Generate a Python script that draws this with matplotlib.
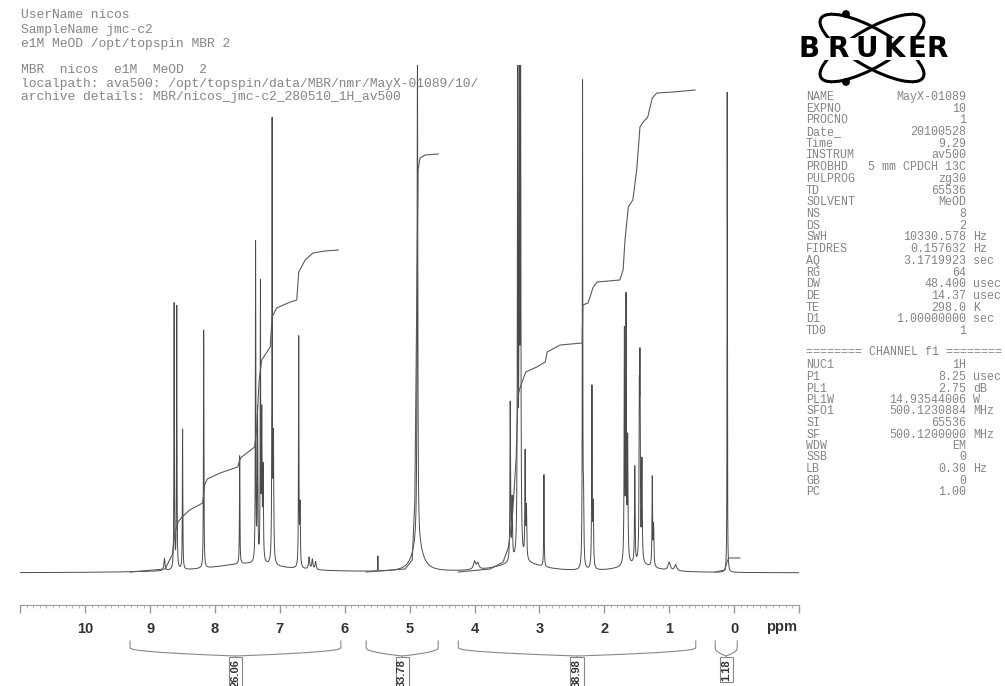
import numpy as np
import matplotlib.pyplot as plt
from matplotlib.patches import Ellipse, Circle, Rectangle
from matplotlib.transforms import blended_transform_factory

W, H = 1005, 686

# peak table: shift (ppm), height above baseline, half width (ppm)
peak_ppm = [8.78, 8.63, 8.59, 8.50, 8.175, 7.62, 7.375, 7.345, 7.30, 7.28, 7.26,
            7.12, 7.10, 6.71, 6.69, 6.55, 6.50, 6.45, 5.49, 4.88, 4.88, 4.00, 3.95,
            3.45, 3.42, 3.335, 3.31, 3.29, 3.22, 3.20, 2.93, 2.335, 2.32, 2.19, 2.17,
            1.69, 1.665, 1.64, 1.53, 1.46, 1.45, 1.42, 1.26, 1.24, 1.00, 0.90, 0.105,
            7.5, 3.3, 1.5]
peak_height = [12, 265, 262, 140, 238, 108, 318, 150, 272, 140, 90,
               438, 120, 228, 60, 12, 10, 8, 15, 505, 30, 8, 6,
               158, 60, 515, 515, 515, 104, 50, 92, 482, 60, 180, 60,
               228, 258, 120, 96, 148, 182, 100, 88, 40, 8, 6, 480,
               9, 10, 8]
peak_hwhm = [0.01, 0.004, 0.004, 0.004, 0.004, 0.004, 0.004, 0.005, 0.004, 0.005, 0.006,
             0.004, 0.006, 0.004, 0.006, 0.01, 0.01, 0.01, 0.002, 0.006, 0.09, 0.02, 0.02,
             0.005, 0.006, 0.005, 0.005, 0.005, 0.005, 0.006, 0.004, 0.004, 0.006, 0.005, 0.006,
             0.005, 0.005, 0.006, 0.005, 0.005, 0.005, 0.006, 0.005, 0.006, 0.02, 0.02, 0.003,
             0.7, 0.4, 0.3]

# integral traces (ppm, level)
int1_ppm = [9.31, 8.77, 8.66, 8.62, 8.57, 8.51, 8.39, 8.19, 8.16, 8.12, 7.92, 7.65, 7.62,
            7.59, 7.39, 7.36, 7.32, 7.28, 7.15, 7.12, 7.05, 6.84, 6.74, 6.71, 6.61, 6.49,
            6.31, 6.10]
int1_val = [1, 4, 18, 40, 51, 56, 63, 70, 88, 94, 100, 106, 113,
            116, 126, 143, 193, 213, 226, 256, 265, 271, 273, 301, 313, 320,
            322, 323]
int2_ppm = [5.67, 5.07, 4.96, 4.92, 4.89, 4.87, 4.84, 4.76, 4.56]
int2_val = [1, 4, 13, 73, 273, 403, 415, 418, 419]
int3_ppm = [4.25, 3.76, 3.56, 3.48, 3.42, 3.36, 3.33, 3.30, 3.21, 3.04, 2.91, 2.88, 2.68,
            2.34, 2.33, 2.25, 2.17, 2.11, 1.76, 1.71, 1.68, 1.63, 1.56, 1.50, 1.45, 1.40,
            1.33, 1.26, 1.19, 0.94, 0.60]
int3_val = [1, 4, 11, 25, 53, 113, 178, 185, 201, 206, 211, 221, 228,
            230, 268, 270, 286, 291, 293, 303, 333, 366, 373, 403, 446, 451,
            456, 475, 480, 481, 483]
int4_ppm = [0.29, 0.14, 0.11, 0.08, -0.09]
int4_val = [1, 3, 11, 15, 15]

int_start = [9.31, 5.67, 4.25, 0.29]
int_end = [6.06, 4.56, 0.59, -0.05]
int_label = ['26.06', '33.78', '38.98', '1.18']

header_lines = ['UserName nicos', 'SampleName jmc-c2', 'e1M MeOD /opt/topspin MBR 2', '',
                'MBR  nicos  e1M  MeOD  2',
                'localpath: ava500: /opt/topspin/data/MBR/nmr/MayX-01089/10/',
                'archive details: MBR/nicos_jmc-c2_280510_1H_av500']
header_y = [15, 30, 44, 57, 70, 84, 97]

acq_names = ['NAME', 'EXPNO', 'PROCNO', 'Date_', 'Time', 'INSTRUM', 'PROBHD', 'PULPROG',
             'TD', 'SOLVENT', 'NS', 'DS', 'SWH', 'FIDRES', 'AQ', 'RG', 'DW', 'DE', 'TE',
             'D1', 'TD0']
acq_values = ['MayX-01089', '10', '1', '20100528', '9.29', 'av500', '5 mm CPDCH 13C', 'zg30',
              '65536', 'MeOD', '8', '2', '10330.578', '0.157632', '3.1719923', '64', '48.400',
              '14.37', '298.0', '1.00000000', '1']
acq_units = ['', '', '', '', '', '', '', '', '', '', '', '', 'Hz', 'Hz', 'sec', '', 'usec',
             'usec', 'K', 'sec', '']
ch_names = ['NUC1', 'P1', 'PL1', 'PL1W', 'SFO1', 'SI', 'SF', 'WDW', 'SSB', 'LB', 'GB', 'PC']
ch_values = ['1H', '8.25', '2.75', '14.93544006', '500.1230884', '65536', '500.1200000',
             'EM', '0', '0.30', '0', '1.00']
ch_units = ['', 'usec', 'dB', 'W', 'MHz', '', 'MHz', '', '', 'Hz', '', '']

txtgray = '#858585'
mono = 'Liberation Mono'

fig = plt.figure(figsize=(W / 100, H / 100), dpi=100)

# spectrum axes: 11 .. -1 ppm, baseline at pixel row 573
ax = fig.add_axes([20.4 / W, 1 - 605 / H, 778.5 / W, 540 / H])
ppm = np.linspace(11, -1, 24001)
spec = np.zeros_like(ppm)
for p, h, w in zip(peak_ppm, peak_height, peak_hwhm):
    spec += h / (1 + ((ppm - p) / w) ** 2)
ax.plot(ppm, spec, color='#4a4a4a', lw=0.7)
for xs, ys in [(int1_ppm, int1_val), (int2_ppm, int2_val),
               (int3_ppm, int3_val), (int4_ppm, int4_val)]:
    ax.plot(xs, ys, color='#5a5a5a', lw=0.8)

ax.set_xlim(11, -1)
ax.set_ylim(-32, 508)
for s in ['top', 'left', 'right']:
    ax.spines[s].set_visible(False)
ax.spines['bottom'].set_color('#999999')
ax.set_yticks([])
ax.set_xticks(range(-1, 12))
ax.set_xticklabels([''] + [str(i) for i in range(0, 11)] + [''])
ax.set_xticks(np.arange(-1, 11.001, 0.1), minor=True)
ax.tick_params(axis='x', which='major', direction='out', length=6, width=1,
               color='#999999', pad=6, labelsize=10.5, labelcolor='#333333')
ax.tick_params(axis='x', which='minor', direction='out', length=2, width=0.6,
               color='#aaaaaa')
for lbl in ax.get_xticklabels():
    lbl.set_fontweight('bold')
    lbl.set_family('Liberation Sans')
fig.text(782 / W, 1 - 627 / H, 'ppm', ha='center', va='center', fontsize=10.5,
         fontweight='bold', family='Liberation Sans', color='#333333')

# integral brackets under the axis
tr = blended_transform_factory(ax.transData, fig.transFigure)
for a, b, lab in zip(int_start, int_end, int_label):
    c = (a + b) / 2
    for e in (a, b):
        xs = np.linspace(e, c, 40)
        fr = (xs - e) / (c - e)
        ys = 648 + 8 * np.sqrt(fr)
        ax.plot(np.r_[e, xs], 1 - np.r_[641, ys] / H, transform=tr, color='#888888',
                lw=0.8, clip_on=False)
    ax.text(c, 1 - 659 / H, lab, transform=tr, rotation=90, ha='center', va='top',
            fontsize=8, fontweight='bold', family='Liberation Sans', color='#333333',
            bbox=dict(boxstyle='square,pad=0.15', fc='white', ec='#888888', lw=0.8))

# header text
for line, y in zip(header_lines, header_y):
    fig.text(21 / W, 1 - y / H, line, family=mono, fontsize=9.4,
             color=txtgray, va='center')

# parameter table
for i, (n, v, u) in enumerate(zip(acq_names, acq_values, acq_units)):
    y = 97 + i * 11.7
    fig.text(806 / W, 1 - y / H, n, family=mono, fontsize=8.4, color=txtgray, va='center')
    fig.text(966 / W, 1 - y / H, v, family=mono, fontsize=8.4, color=txtgray, va='center', ha='right')
    fig.text(973 / W, 1 - y / H, u, family=mono, fontsize=8.4, color=txtgray, va='center')
fig.text(806 / W, 1 - 352 / H, '======== CHANNEL f1 ========', family=mono,
         fontsize=8.4, color=txtgray, va='center')
for i, (n, v, u) in enumerate(zip(ch_names, ch_values, ch_units)):
    y = 365.5 + i * 11.5
    fig.text(806 / W, 1 - y / H, n, family=mono, fontsize=8.4, color=txtgray, va='center')
    fig.text(966 / W, 1 - y / H, v, family=mono, fontsize=8.4, color=txtgray, va='center', ha='right')
    fig.text(973 / W, 1 - y / H, u, family=mono, fontsize=8.4, color=txtgray, va='center')

# Bruker logo
lax = fig.add_axes([0, 0, 1, 1])
lax.set_xlim(0, W)
lax.set_ylim(H, 0)
lax.axis('off')
for ang in (30, -30):
    lax.add_patch(Ellipse((872, 48), 118, 38, angle=ang, fill=False, ec='black', lw=2.2))
lax.add_patch(Circle((846, 14), 3.2, color='black'))
lax.add_patch(Circle((846, 82), 3.2, color='black'))
lax.add_patch(Rectangle((795, 38), 153, 22, fc='white', ec='none', zorder=3))
for ch, x in zip('BRUKER', [809, 838, 867, 894, 917, 937]):
    lax.text(x, 49, ch, ha='center', va='center', fontsize=20, fontweight='bold',
             family='DejaVu Sans', color='black', zorder=4)

fig.savefig('out.png', dpi=100)
